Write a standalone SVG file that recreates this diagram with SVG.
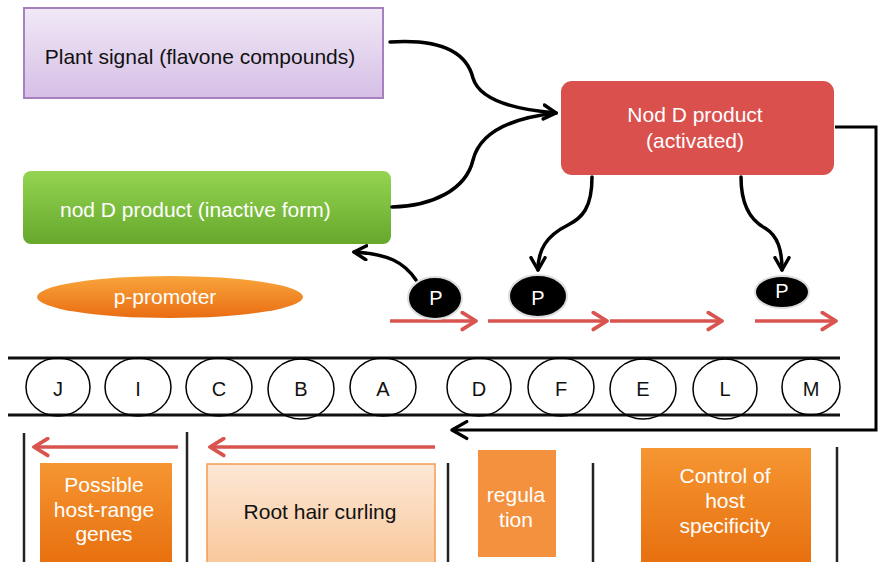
<svg xmlns="http://www.w3.org/2000/svg" width="878" height="562" viewBox="0 0 878 562">
<defs>
<linearGradient id="gPurple" x1="0" y1="0" x2="0" y2="1"><stop offset="0" stop-color="#f1e9f6"/><stop offset="1" stop-color="#d6bfe6"/></linearGradient>
<linearGradient id="gGreen" x1="0" y1="0" x2="0" y2="1"><stop offset="0" stop-color="#94d452"/><stop offset="1" stop-color="#66a82c"/></linearGradient>
<linearGradient id="gOrange" x1="0" y1="0" x2="0" y2="1"><stop offset="0" stop-color="#f9a53c"/><stop offset="1" stop-color="#e96d12"/></linearGradient>
<linearGradient id="gOrangeBox" x1="0" y1="0" x2="0" y2="1"><stop offset="0" stop-color="#f59632"/><stop offset="1" stop-color="#e8700f"/></linearGradient>
<linearGradient id="gPeach" x1="0" y1="0" x2="0" y2="1"><stop offset="0" stop-color="#fde8d6"/><stop offset="1" stop-color="#f9c89c"/></linearGradient>
<marker id="blk" viewBox="0 0 10 10" refX="8" refY="5" markerWidth="5" markerHeight="5" orient="auto" markerUnits="strokeWidth"><path d="M1,1 L8,5 L1,9" fill="none" stroke="#000" stroke-width="2" stroke-linecap="round" stroke-linejoin="round"/></marker>
<marker id="blkThin" viewBox="0 0 10 10" refX="8" refY="5" markerWidth="7" markerHeight="7" orient="auto" markerUnits="strokeWidth"><path d="M1,1 L8,5 L1,9" fill="none" stroke="#000" stroke-width="1.6" stroke-linecap="round" stroke-linejoin="round"/></marker>
<marker id="red" viewBox="0 0 10 10" refX="8" refY="5" markerWidth="6" markerHeight="6" orient="auto" markerUnits="strokeWidth"><path d="M1.5,1 L8,5 L1.5,9" fill="none" stroke="#d9534f" stroke-width="1.8" stroke-linecap="round" stroke-linejoin="round"/></marker>
</defs>
<style>
text{font-family:"Liberation Sans",Arial,sans-serif;font-size:21px}
.w{fill:#fff}
.c{text-anchor:middle}
.gene{fill:none;stroke:#000;stroke-width:1.5}
.lt{font-size:20px;text-anchor:middle;fill:#111}
.pc{fill:#000;stroke:#ddd;stroke-width:2}
.conn{fill:none;stroke:#000;stroke-width:3.5;stroke-linecap:round}
.rarr{fill:none;stroke:#d9534f;stroke-width:3.5}
.vl{stroke:#222;stroke-width:2.5}
.band{stroke:#111;stroke-width:3}
</style>

<g id="plant-signal">
<rect x="24" y="8" width="359" height="90" fill="url(#gPurple)" stroke="#a680bf" stroke-width="2"/>
<text x="200" y="64" class="c" fill="#111">Plant signal (flavone compounds)</text>
</g>

<g id="nodD-inactive">
<rect x="23" y="171" width="368" height="73" rx="8" fill="url(#gGreen)"/>
<text x="60" y="217" class="w">nod D product (inactive form)</text>
</g>

<g id="nodD-activated">
<rect x="560" y="80" width="275" height="96" rx="12" fill="#d9504d" stroke="#fff" stroke-width="2"/>
<text x="695" y="122" class="w c">Nod D product</text>
<text x="695" y="148" class="w c">(activated)</text>
</g>

<g id="p-promoter">
<ellipse cx="170" cy="297" rx="133" ry="21" fill="url(#gOrange)"/>
<text x="165" y="304" class="w c">p-promoter</text>
</g>

<g id="gene-band">
<line x1="8" y1="358" x2="840" y2="358" class="band"/>
<line x1="8" y1="415" x2="840" y2="415" class="band"/>
<g id="gene-J"><ellipse cx="58" cy="387" rx="32" ry="29" class="gene"/><text x="58" y="396" class="lt">J</text></g>
<g id="gene-I"><ellipse cx="138" cy="387" rx="33" ry="29" class="gene"/><text x="138" y="396" class="lt">I</text></g>
<g id="gene-C"><ellipse cx="219" cy="387" rx="33" ry="29" class="gene"/><text x="219" y="396" class="lt">C</text></g>
<g id="gene-B"><ellipse cx="301" cy="389" rx="33" ry="30" class="gene"/><text x="301" y="396" class="lt">B</text></g>
<g id="gene-A"><ellipse cx="383" cy="387" rx="33" ry="29" class="gene"/><text x="383" y="396" class="lt">A</text></g>
<g id="gene-D"><ellipse cx="479" cy="387" rx="32" ry="29" class="gene"/><text x="479" y="396" class="lt">D</text></g>
<g id="gene-F"><ellipse cx="561" cy="387" rx="33" ry="29" class="gene"/><text x="561" y="396" class="lt">F</text></g>
<g id="gene-E"><ellipse cx="643" cy="389" rx="33" ry="30" class="gene"/><text x="643" y="396" class="lt">E</text></g>
<g id="gene-L"><ellipse cx="725" cy="389" rx="32" ry="30" class="gene"/><text x="725" y="396" class="lt">L</text></g>
<g id="gene-M"><ellipse cx="811" cy="387" rx="29" ry="28" class="gene"/><text x="811" y="396" class="lt">M</text></g>
</g>

<g id="connectors">
<path d="M390,42 C450,38 468,58 473,78 C480,102 520,110 556,113" class="conn" marker-end="url(#blk)"/>
<path d="M392,207 C432,206 466,190 473,160 C481,128 520,117 556,113" class="conn"/>
<path d="M592,177 C592,208 582,218 568,225 C546,236 538,250 538,270" class="conn" marker-end="url(#blk)"/>
<path d="M741,177 C741,205 750,220 765,228 C778,236 782,250 782,270" class="conn" marker-end="url(#blk)"/>
<path d="M416,280 C404,262 388,254 354,252" class="conn" marker-end="url(#blk)"/>
<path d="M835,127 L876,127 L876,430 L452,430" fill="none" stroke="#000" stroke-width="3" marker-end="url(#blkThin)"/>
<path d="M390,321 L476,321" class="rarr" marker-end="url(#red)"/>
<path d="M488,321 L607,321" class="rarr" marker-end="url(#red)"/>
<path d="M610,321 L722,321" class="rarr" marker-end="url(#red)"/>
<path d="M755,321 L836,321" class="rarr" marker-end="url(#red)"/>
<path d="M178,447 L34,447" class="rarr" marker-end="url(#red)"/>
<path d="M435,447 L210,447" class="rarr" marker-end="url(#red)"/>
</g>

<g id="P1"><ellipse cx="435" cy="298" rx="27" ry="21" class="pc"/><text x="436" y="305" class="w c" style="font-size:20px">P</text></g>
<g id="P2"><ellipse cx="538" cy="296" rx="29" ry="21" class="pc"/><text x="538" y="305" class="w c" style="font-size:20px">P</text></g>
<g id="P3"><ellipse cx="782" cy="292" rx="27" ry="16" class="pc"/><text x="782" y="298" class="w c" style="font-size:20px">P</text></g>

<g id="dividers">
<line x1="24" y1="433" x2="24" y2="562" class="vl"/>
<line x1="187" y1="432" x2="187" y2="562" class="vl"/>
<line x1="448" y1="463" x2="448" y2="562" class="vl"/>
<line x1="593" y1="463" x2="593" y2="562" class="vl"/>
<line x1="837" y1="447" x2="837" y2="562" class="vl"/>
</g>

<g id="host-range">
<rect x="40" y="463" width="132" height="99" fill="url(#gOrangeBox)"/>
<text x="104" y="492" class="w c">Possible</text>
<text x="104" y="517" class="w c">host-range</text>
<text x="104" y="541" class="w c">genes</text>
</g>

<g id="root-hair">
<rect x="207" y="464" width="228" height="99" fill="url(#gPeach)" stroke="#f39a50" stroke-width="1.5"/>
<text x="320" y="519" class="c" fill="#111">Root hair curling</text>
</g>

<g id="regulation">
<rect x="477" y="449" width="80" height="109" fill="#f4913e" stroke="#fff" stroke-width="2"/>
<text x="516" y="502" class="w c">regula</text>
<text x="516" y="527" class="w c">tion</text>
</g>

<g id="host-specificity">
<rect x="641" y="448" width="170" height="114" fill="url(#gOrangeBox)"/>
<text x="725" y="483" class="w c">Control of</text>
<text x="725" y="508" class="w c">host</text>
<text x="725" y="533" class="w c">specificity</text>
</g>
</svg>
